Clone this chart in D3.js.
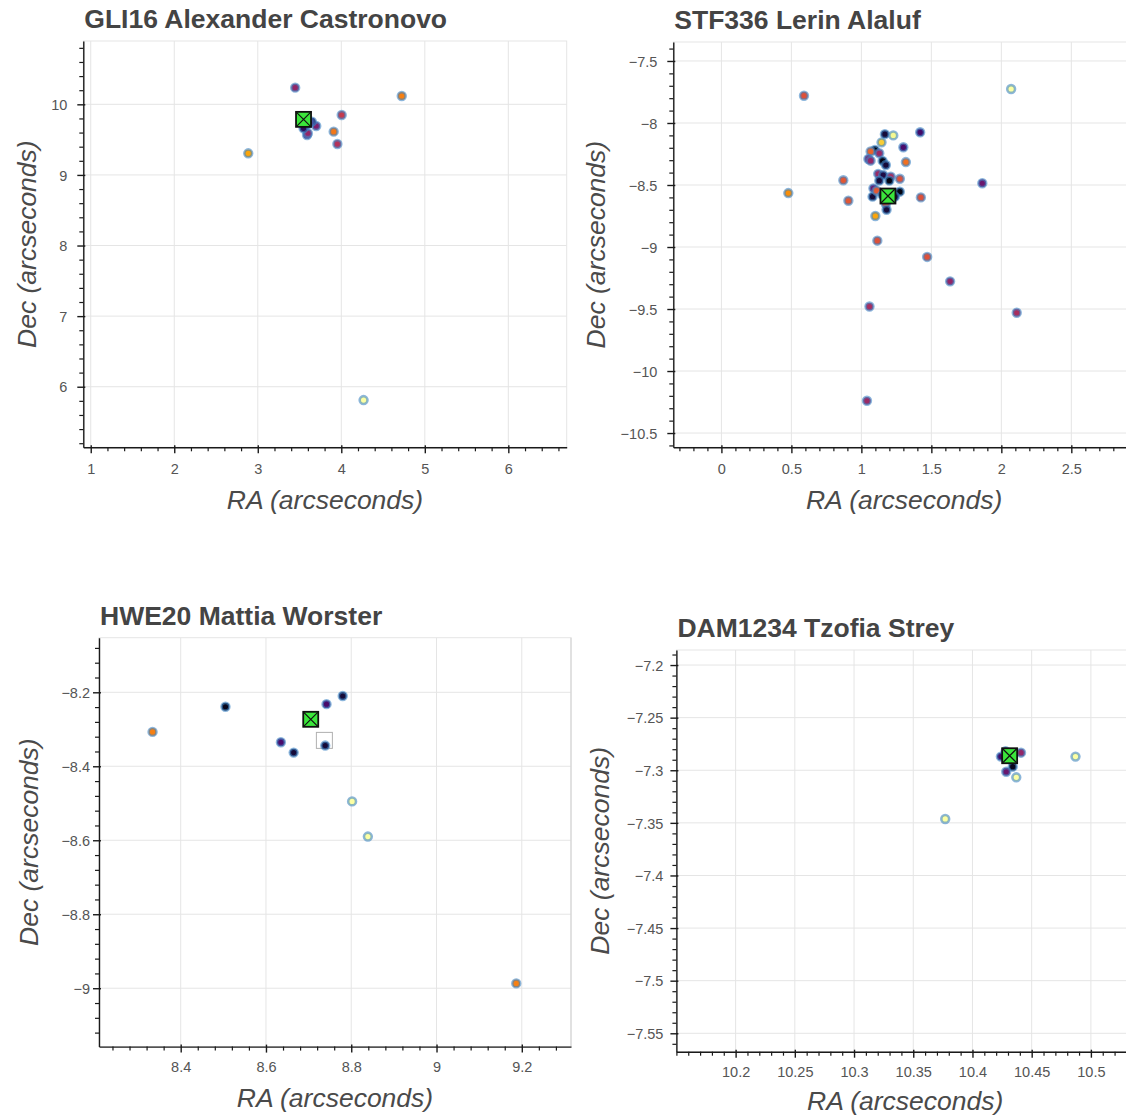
<!DOCTYPE html>
<html><head><meta charset="utf-8">
<script src="https://cdn.jsdelivr.net/npm/d3@7"></script>
<style>
html,body{margin:0;padding:0;background:#fff;}
svg{display:block;font-family:"Liberation Sans",Arial,Helvetica,sans-serif;}
</style></head><body>
<svg id="chart" width="1126" height="1118"></svg>
<script>
// ---------- data ----------
const titles = ["GLI16 Alexander Castronovo", "STF336 Lerin Alaluf", "HWE20 Mattia Worster", "DAM1234 Tzofia Strey"];
const xLabel = "RA (arcseconds)";
const yLabel = "Dec (arcseconds)";

// GLI16
const gli16Ra  = [3.448, 4.724, 4.005, 3.909, 3.953, 2.886, 4.267, 3.590, 3.600, 3.700, 3.648, 3.590, 3.548, 3.620];
const gli16Dec = [10.236, 10.118, 9.849, 9.613, 9.438, 9.306, 5.811, 9.566, 9.590, 9.693, 9.754, 9.710, 9.660, 9.740];
const gli16Mag = [0.40, 0.72, 0.52, 0.70, 0.48, 0.80, 1.00, 0.30, 0.40, 0.35, 0.15, 0.20, 0.15, 0.25];
const gli16Primary = [3.548, 9.787];
const gli16XTicks = [1, 2, 3, 4, 5, 6];
const gli16YTicks = [6, 7, 8, 9, 10];

// STF336
const stf336Ra  = [0.590, 2.070, 0.478, 0.871, 0.907, 1.864, 1.420, 1.425, 1.300, 1.318, 1.275, 1.100, 1.114, 1.470, 1.634, 1.058, 2.110, 1.040,
                   1.168, 1.228, 1.144, 1.097, 1.066, 1.128, 1.050, 1.066, 1.152, 1.175, 1.120, 1.156, 1.210, 1.128, 1.200, 1.086, 1.080, 1.275, 1.240, 1.175, 1.180, 1.109, 1.150];
const stf336Dec = [-7.780, -7.726, -8.565, -8.462, -8.627, -8.486, -8.075, -8.600, -8.196, -8.315, -8.450, -8.750, -8.949, -9.080, -9.277, -9.480, -9.530, -10.240,
                   -8.090, -8.100, -8.156, -8.218, -8.230, -8.244, -8.290, -8.304, -8.306, -8.339, -8.410, -8.420, -8.433, -8.465, -8.465, -8.527, -8.594, -8.554, -8.594, -8.653, -8.700, -8.546, -8.580];
const stf336Mag = [0.60, 1.00, 0.75, 0.62, 0.62, 0.30, 0.20, 0.60, 0.22, 0.68, 0.60, 0.80, 0.60, 0.60, 0.40, 0.45, 0.45, 0.42,
                   0.10, 0.98, 0.88, 0.03, 0.65, 0.42, 0.35, 0.40, 0.03, 0.10, 0.42, 0.12, 0.45, 0.10, 0.03, 0.30, 0.10, 0.03, 0.10, 0.60, 0.10, 0.62, 0.05];
const stf336Primary = [1.190, -8.589];
const stf336XTicks = [0, 0.5, 1, 1.5, 2, 2.5];
const stf336YTicks = [-10.5, -10, -9.5, -9, -8.5, -8, -7.5];

// HWE20
const hwe20Ra  = [8.334, 8.505, 8.780, 8.742, 8.635, 8.665, 8.739, 8.802, 8.839, 9.187];
const hwe20Dec = [-8.307, -8.239, -8.210, -8.232, -8.335, -8.363, -8.344, -8.495, -8.590, -8.987];
const hwe20Mag = [0.72, 0.05, 0.10, 0.22, 0.22, 0.10, 0.10, 1.00, 1.00, 0.72];
const hwe20Primary = [8.705, -8.273];
const hwe20Box = [8.737, -8.330];
const hwe20XTicks = [8.4, 8.6, 8.8, 9, 9.2];
const hwe20YTicks = [-9, -8.8, -8.6, -8.4, -8.2];

// DAM1234
const dam1234Ra  = [10.441, 10.424, 10.428, 10.434, 10.4285, 10.437, 10.487, 10.377];
const dam1234Dec = [-7.2833, -7.287, -7.282, -7.2966, -7.3014, -7.3067, -7.287, -7.3463];
const dam1234Mag = [0.40, 0.20, 0.10, 0.05, 0.30, 1.00, 1.00, 1.00];
const dam1234Primary = [10.4314, -7.2862];
const dam1234XTicks = [10.2, 10.25, 10.3, 10.35, 10.4, 10.45, 10.5];
const dam1234YTicks = [-7.55, -7.5, -7.45, -7.4, -7.35, -7.3, -7.25, -7.2];

// ---------- layout ----------
const panels = [
  {title: titles[0], ra: gli16Ra, dec: gli16Dec, mag: gli16Mag, primary: gli16Primary, xt: gli16XTicks, yt: gli16YTicks,
   f: {l: 83.3, t: 41, r: 566.7, b: 447.3}, xd: [0.911, 6.699], yd: [5.142, 10.897],
   yGap: 16, xBase: 27, yLabGap: 47, xLabOff: 62},
  {title: titles[1], ra: stf336Ra, dec: stf336Dec, mag: stf336Mag, primary: stf336Primary, xt: stf336XTicks, yt: stf336YTicks,
   f: {l: 673.3, t: 42, r: 1135, b: 447.3}, xd: [-0.3437, 2.955], yd: [-10.615, -7.347],
   yGap: 16, xBase: 27, yLabGap: 68, xLabOff: 62},
  {title: titles[2], ra: hwe20Ra, dec: hwe20Dec, mag: hwe20Mag, primary: hwe20Primary, box: hwe20Box, xt: hwe20XTicks, yt: hwe20YTicks,
   f: {l: 99, t: 637.7, r: 571, b: 1046.6}, xd: [8.2084, 9.3154], yd: [-9.1578, -8.0524],
   yGap: 9, xBase: 25, yLabGap: 61, xLabOff: 60, rightEdge: "#d0d0d0"},
  {title: titles[3], ra: dam1234Ra, dec: dam1234Dec, mag: dam1234Mag, primary: dam1234Primary, xt: dam1234XTicks, yt: dam1234YTicks,
   f: {l: 676.4, t: 650, r: 1134, b: 1051.7}, xd: [10.15, 10.5364], yd: [-7.5675, -7.1857],
   yGap: 13, xBase: 25, yLabGap: 67, xLabOff: 58}
];

const svg = d3.select("#chart");
const fmt = d3.format("~g");
const TXT = "#555", AX = "#1a1a1a";

function minorTicks(major, dom) {
  const step = (major[1] - major[0]) / 5;
  const lo = Math.min(dom[0], dom[1]), hi = Math.max(dom[0], dom[1]);
  const out = [];
  for (let k = Math.ceil(lo / step - 1e-9); k <= Math.floor(hi / step + 1e-9); k++) {
    const v = +(k * step).toFixed(8);
    if (!major.some(m => Math.abs(m - v) < step * 1e-3)) out.push(v);
  }
  return out;
}

panels.forEach(p => {
  const f = p.f;
  const x = d3.scaleLinear().domain(p.xd).range([f.l, f.r]);
  const y = d3.scaleLinear().domain(p.yd).range([f.b, f.t]);
  const g = svg.append("g");

  // grid
  g.append("g").selectAll("line").data(p.xt).join("line")
    .attr("x1", d => x(d)).attr("x2", d => x(d)).attr("y1", f.t).attr("y2", f.b)
    .attr("stroke", "#e5e5e5").attr("stroke-width", 1);
  g.append("g").selectAll("line").data(p.yt).join("line")
    .attr("y1", d => y(d)).attr("y2", d => y(d)).attr("x1", f.l).attr("x2", f.r)
    .attr("stroke", "#e5e5e5").attr("stroke-width", 1);
  // outline
  g.append("rect").attr("x", f.l).attr("y", f.t).attr("width", f.r - f.l).attr("height", f.b - f.t)
    .attr("fill", "none").attr("stroke", "#e5e5e5").attr("stroke-width", 1);
  if (p.rightEdge) {
    g.append("line").attr("x1", f.r).attr("x2", f.r).attr("y1", f.t).attr("y2", f.b)
      .attr("stroke", p.rightEdge).attr("stroke-width", 1);
  }

  // minor ticks
  const xm = g.append("g").attr("transform", `translate(0,${f.b})`)
    .call(d3.axisBottom(x).tickValues(minorTicks(p.xt, p.xd)).tickSize(4).tickSizeOuter(0).tickFormat(""));
  xm.select(".domain").remove();
  xm.selectAll("line").attr("stroke", AX).attr("stroke-width", 1.2);
  const ym = g.append("g").attr("transform", `translate(${f.l},0)`)
    .call(d3.axisLeft(y).tickValues(minorTicks(p.yt, p.yd)).tickSize(4).tickSizeOuter(0).tickFormat(""));
  ym.select(".domain").remove();
  ym.selectAll("line").attr("stroke", AX).attr("stroke-width", 1.2);

  // major axes
  const xa = g.append("g").attr("transform", `translate(0,${f.b})`)
    .call(d3.axisBottom(x).tickValues(p.xt).tickSize(6).tickSizeOuter(0).tickFormat(fmt));
  xa.select(".domain").attr("stroke", AX).attr("stroke-width", 1.4);
  xa.selectAll(".tick line").attr("y1", -2).attr("y2", 6).attr("stroke", AX).attr("stroke-width", 1.4);
  xa.selectAll(".tick text").attr("y", p.xBase).attr("dy", null)
    .attr("fill", TXT).style("font-size", "14.5px").style("font-family", "Liberation Sans, Arial, sans-serif");

  const ya = g.append("g").attr("transform", `translate(${f.l},0)`)
    .call(d3.axisLeft(y).tickValues(p.yt).tickSize(6).tickSizeOuter(0).tickFormat(fmt));
  ya.select(".domain").attr("stroke", AX).attr("stroke-width", 1.4);
  ya.selectAll(".tick line").attr("x1", 2).attr("x2", -6).attr("stroke", AX).attr("stroke-width", 1.4);
  ya.selectAll(".tick text").attr("x", -p.yGap).attr("dy", "0.36em")
    .attr("fill", TXT).style("font-size", "14.5px").style("font-family", "Liberation Sans, Arial, sans-serif");

  // hollow box marker
  if (p.box) {
    g.append("rect").attr("x", x(p.box[0]) - 8).attr("y", y(p.box[1]) - 8).attr("width", 16).attr("height", 16)
      .attr("fill", "#fff").attr("stroke", "#b0b0b0").attr("stroke-width", 1);
  }

  // points
  const pts = p.ra.map((r, i) => ({ra: r, dec: p.dec[i], mag: p.mag[i]}));
  g.append("g").selectAll("circle").data(pts).join("circle")
    .attr("cx", d => x(d.ra)).attr("cy", d => y(d.dec)).attr("r", 3.9)
    .attr("fill", d => d3.interpolateInferno(d.mag))
    .attr("stroke", "#3f86c4").attr("stroke-opacity", 0.6).attr("stroke-width", 2.6);

  // primary star: square with X
  const px = x(p.primary[0]), py = y(p.primary[1]), s = 7.5;
  const pg = g.append("g");
  pg.append("rect").attr("x", px - s).attr("y", py - s).attr("width", 2 * s).attr("height", 2 * s)
    .attr("fill", "#3be63b").attr("stroke", "#111").attr("stroke-width", 1.8);
  pg.append("path").attr("d", `M${px - s},${py - s}L${px + s},${py + s}M${px - s},${py + s}L${px + s},${py - s}`)
    .attr("stroke", "#111").attr("stroke-width", 1.2);

  // title
  g.append("text").attr("x", f.l + 1).attr("y", f.t - 13).text(p.title)
    .attr("fill", "#444").style("font-size", "26.5px").style("font-weight", "bold");
  // axis labels
  g.append("text").attr("x", (f.l + f.r) / 2).attr("y", f.b + p.xLabOff).attr("text-anchor", "middle").text(xLabel)
    .attr("fill", "#4a4a4a").style("font-size", "26.5px").style("font-style", "italic");
  g.append("text").attr("transform", `translate(${f.l - p.yLabGap},${(f.t + f.b) / 2}) rotate(-90)`)
    .attr("text-anchor", "middle").text(yLabel)
    .attr("fill", "#4a4a4a").style("font-size", "26.5px").style("font-style", "italic");
});
</script>
</body></html>
